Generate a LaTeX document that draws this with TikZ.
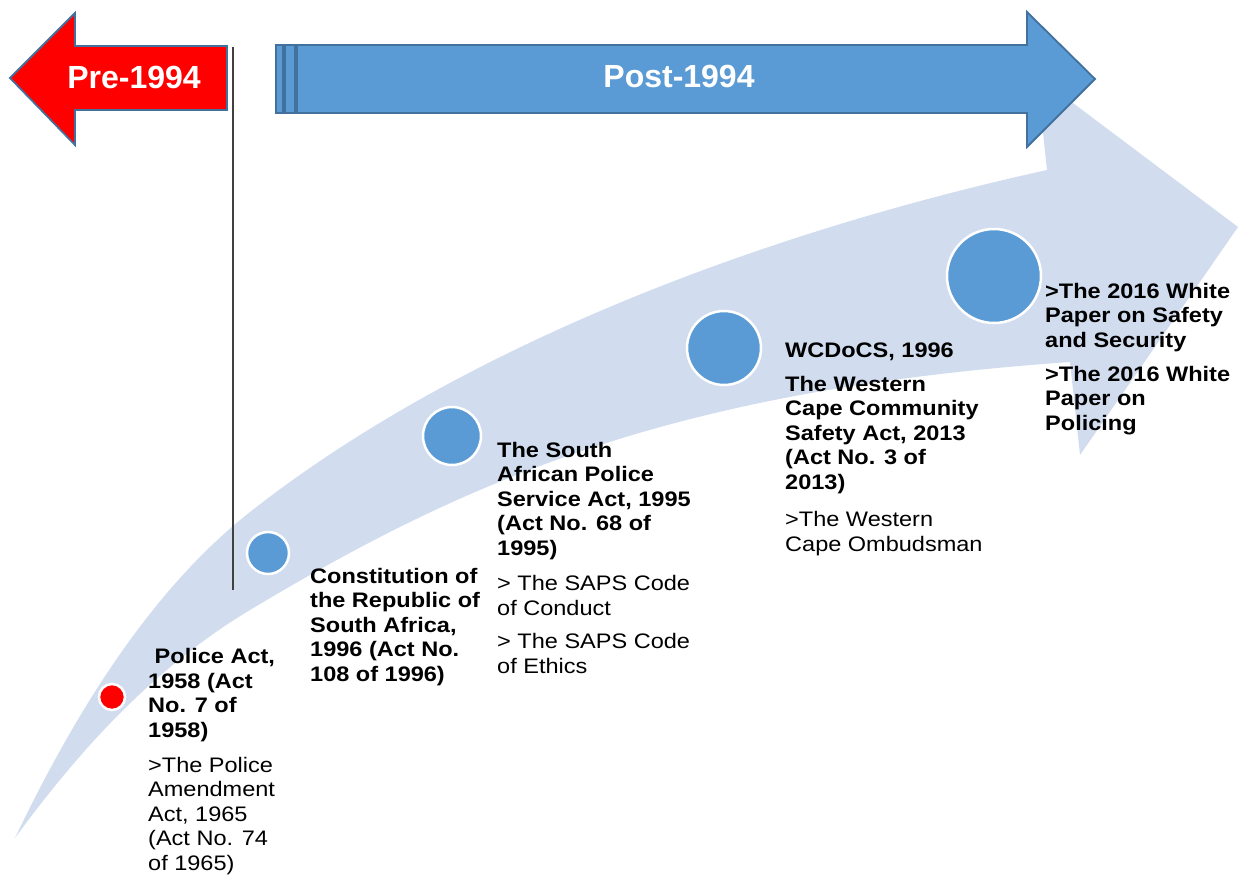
\documentclass[tikz,border=0pt]{standalone}
\usepackage{fontspec}
\setmainfont{Liberation Sans}[FakeStretch=1.12]
\newfontfamily\bannerfont{Liberation Sans}
\definecolor{timelineblue}{HTML}{5B9BD5}
\definecolor{timelineedge}{HTML}{41719C}
\definecolor{timelineband}{HTML}{D1DDEF}
\definecolor{timelinered}{HTML}{FF0000}

\begin{document}
\begin{tikzpicture}[x=1pt,y=-1pt,
    actbold/.style={anchor=base west,inner sep=0pt,align=left,
      font=\fontsize{21}{24.5}\selectfont\bfseries},
    actplain/.style={anchor=base west,inner sep=0pt,align=left,
      font=\fontsize{21}{24.5}\selectfont},
    milestone/.style={circle,fill=timelineblue,draw=white,line width=2.5pt,inner sep=0pt},
    era/.style={draw=timelineedge,line width=1.8pt,line join=miter},
    eralabel/.style={anchor=base,inner sep=0pt,text=white,
      font=\bannerfont\fontsize{32}{36}\selectfont\bfseries}]
        \useasboundingbox (0,0) rectangle (1243,879);

        % the wide curved arrow behind everything
        \fill[timelineband] (15,838)
          .. controls (71,721) and (147,593) .. (250,512)
          .. controls (467,341.5) and (774,230) .. (1047,170)
          -- (1037,76) -- (1238,227) -- (1080,455) -- (1070,362)
          .. controls (670,390) and (465,481) .. (250,610)
          .. controls (155,667) and (80,749) .. (15,838) -- cycle;

        % pre-1994 arrow
        \fill[timelinered] (10,78) -- (75,13) -- (75,46) -- (227,46) -- (227,110)
          -- (75,110) -- (75,145) -- cycle;
        \draw[era] (10,78) -- (75,13) -- (75,46) -- (227,46) -- (227,110)
          -- (75,110) -- (75,145) -- cycle;
        \node[eralabel] (pre) at (134,88) {Pre-1994};

        % post-1994 arrow
        \filldraw[era,fill=timelineblue] (276,45) rectangle (283,113);
        \filldraw[era,fill=timelineblue] (285,45) rectangle (295,113);
        \filldraw[era,fill=timelineblue] (297,45) -- (1027,45) -- (1027,12) -- (1095,79)
          -- (1027,147) -- (1027,113) -- (297,113) -- cycle;
        \node[eralabel] (post) at (679,87) {Post-1994};

        % divider
        \coordinate (divtop) at (233,47);
        \coordinate (divbot) at (233,590);
        \draw[black!75,line width=1.2pt] (divtop) -- (divbot);

        \node[milestone,fill=timelinered,minimum size=26pt] (m1958) at (112,697) {};
        \node[milestone,minimum size=42pt] (m1996) at (268,553) {};
        \node[milestone,minimum size=58pt] (m1995) at (452,436) {};
        \node[milestone,minimum size=74pt] (m2013) at (724,348) {};
        \node[milestone,minimum size=94pt] (m2016) at (994,276) {};

        % multi-line nodes sit on the baseline of their last line
        \node[actbold] (police) at (148,737) {\ Police Act,\\1958 (Act\\No. 7 of\\1958)};
        \node[actplain] (policeamend) at (148,870)
          {>The Police\\Amendment\\Act, 1965\\(Act No. 74\\of 1965)};

        \node[actbold] (constitution) at (310,681)
          {Constitution of\\the Republic of\\South Africa,\\1996 (Act No.\\108 of 1996)};

        \node[actbold] (sapsact) at (497,555)
          {The South\\African Police\\Service Act, 1995\\(Act No. 68 of\\1995)};
        \node[actplain] (sapsconduct) at (497,615) {> The SAPS Code\\of Conduct};
        \node[actplain] (sapsethics) at (497,673) {> The SAPS Code\\of Ethics};

        \node[actbold] (wcdocs) at (785,357) {WCDoCS, 1996};
        \node[actbold] (safetyact) at (785,489)
          {The Western\\Cape Community\\Safety Act, 2013\\(Act No. 3 of\\2013)};
        \node[actplain] (ombudsman) at (785,551) {>The Western\\Cape Ombudsman};

        \node[actbold] (whitesafety) at (1045,347)
          {>The 2016 White\\Paper on Safety\\and Security};
        \node[actbold] (whitepolicing) at (1045,430)
          {>The 2016 White\\Paper on\\Policing};
      \end{tikzpicture}
\end{document}
